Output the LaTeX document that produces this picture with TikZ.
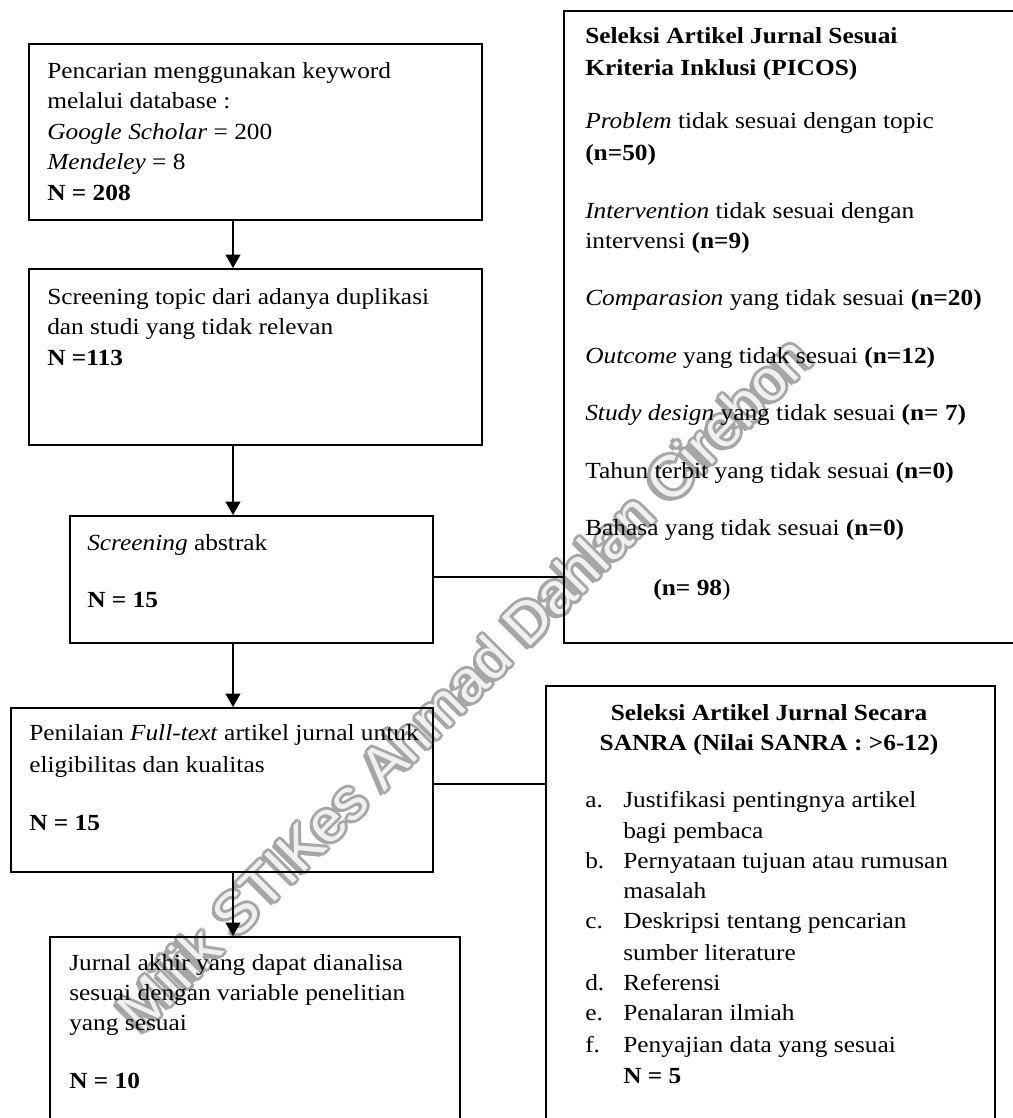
\documentclass[tikz,border=0pt]{standalone}
\usepackage{fontspec}
\setmainfont{Liberation Serif}[FakeStretch=1.1]
\newfontfamily\wmfont{Liberation Sans}
\usetikzlibrary{arrows.meta,calc}
\newcommand\tl[4]{\node[ln] (#1) at (#2,#3) {#4};}
\begin{document}
\begin{tikzpicture}[x=0.75pt,y=-0.75pt,
  box/.style={draw,line width=1.2pt,inner sep=0,anchor=north west,rectangle},
  ln/.style={anchor=base west,inner sep=0,font=\fontsize{17.3}{22}\selectfont},
  lnc/.style={anchor=base,inner sep=0,font=\fontsize{17.3}{22}\selectfont},
  arr/.style={line width=1.5pt,-{Triangle[width=11pt,length=10pt]}},
  con/.style={line width=0.9pt},
  wm/.style={rotate=45,anchor=base west,inner sep=0,font=\wmfont\fontsize{44}{44}\selectfont}]
\clip (0,0) rectangle (1013,1118);
\useasboundingbox (0,0) rectangle (1013,1118);
\fill[white] (0,0) rectangle (1013,1118);
% watermark (drawn behind)
\foreach \dx/\dy [count=\i] in {3/0,2.1/2.1,0/3,-2.1/2.1,-3/0,-2.1/-2.1,0/-3,2.1/-2.1,1.5/0,0/1.5,-1.5/0,0/-1.5,-3.5/3.5,-2.5/3.5,-3.5/2.5}{
  \node[wm,text=gray!70] (wms\i) at (142+\dx,1035+\dy) {Milik STIKes Ahmad Dahlan Cirebon};
}
\node[wm,text=gray!12] (wm) at (142,1035) {Milik STIKes Ahmad Dahlan Cirebon};
% boxes
\node[box,minimum width=453*0.75pt,minimum height=176*0.75pt] (b1) at (28,43) {};
\node[box,minimum width=453*0.75pt,minimum height=176*0.75pt] (b2) at (28,268) {};
\node[box,minimum width=363*0.75pt,minimum height=127*0.75pt] (b3) at (69,515) {};
\node[box,minimum width=480*0.75pt,minimum height=632*0.75pt] (picos) at (563,10) {};
\node[box,minimum width=422*0.75pt,minimum height=164*0.75pt] (b4) at (10,707) {};
\node[box,minimum width=410*0.75pt,minimum height=250*0.75pt] (b5) at (49,936) {};
\node[box,minimum width=449*0.75pt,minimum height=500*0.75pt] (sanra) at (545,685) {};
\coordinate (ax) at (233,0);
% connectors
\draw[arr] (b1.south -| ax) -- (b2.north -| ax);
\draw[arr] (b2.south -| ax) -- (b3.north -| ax);
\draw[arr] (b3.south -| ax) -- (b4.north -| ax);
\draw[arr] (b4.south -| ax) -- (b5.north -| ax);
\coordinate (h1) at (0,577);
\coordinate (h2) at (0,784);
\draw[con] (b3.east |- h1) -- (picos.west |- h1);
\draw[con] (b4.east |- h2) -- (sanra.west |- h2);
% box 1
\tl{t11}{47}{78}{Pencarian menggunakan keyword}
\tl{t12}{47}{108.5}{melalui database :}
\tl{t13}{47}{139}{\textit{Google Scholar} = 200}
\tl{t14}{47}{169}{\textit{Mendeley} = 8}
\tl{t15}{47}{200}{\textbf{N = 208}}
% box 2
\tl{t21}{47}{304}{Screening topic dari adanya duplikasi}
\tl{t22}{47}{334}{dan studi yang tidak relevan}
\tl{t23}{47}{365}{\textbf{N =113}}
% box 3
\tl{t31}{87}{550}{\textit{Screening} abstrak}
\tl{t32}{87}{607}{\textbf{N = 15}}
% picos
\tl{p1}{585}{43}{\textbf{Seleksi Artikel Jurnal Sesuai}}
\tl{p2}{585}{75}{\textbf{Kriteria Inklusi (PICOS)}}
\tl{p3}{585}{128}{\textit{Problem} tidak sesuai dengan topic}
\tl{p4}{585}{160}{\textbf{(n=50)}}
\tl{p5}{585}{218}{\textit{Intervention} tidak sesuai dengan}
\tl{p6}{585}{248}{intervensi \textbf{(n=9)}}
\tl{p7}{585}{305}{\textit{Comparasion} yang tidak sesuai \textbf{(n=20)}}
\tl{p8}{585}{363}{\textit{Outcome} yang tidak sesuai \textbf{(n=12)}}
\tl{p9}{585}{420}{\textit{Study design} yang tidak sesuai \textbf{(n= 7)}}
\tl{p10}{585}{478}{Tahun terbit yang tidak sesuai \textbf{(n=0)}}
\tl{p11}{585}{535}{Bahasa yang tidak sesuai \textbf{(n=0)}}
\node[lnc] (p12) at (692,595) {\textbf{(n= 98})};
% box 4
\tl{t41}{29}{740}{Penilaian \textit{Full-text} artikel jurnal untuk}
\tl{t42}{29}{772}{eligibilitas dan kualitas}
\tl{t43}{29}{830}{\textbf{N = 15}}
% box 5
\tl{t51}{69}{970}{Jurnal akhir yang dapat dianalisa}
\tl{t52}{69}{1000}{sesuai dengan variable penelitian}
\tl{t53}{69}{1030}{yang sesuai}
\tl{t54}{69}{1088}{\textbf{N = 10}}
% sanra
\node[lnc] (s1) at (769,720) {\textbf{Seleksi Artikel Jurnal Secara}};
\node[lnc] (s2) at (769,750) {\textbf{SANRA (Nilai SANRA : >6-12)}};
\tl{la}{585}{807}{a.}\tl{sa1}{623}{807}{Justifikasi pentingnya artikel}
\tl{sa2}{623}{838}{bagi pembaca}
\tl{lb}{585}{868}{b.}\tl{sb1}{623}{868}{Pernyataan tujuan atau rumusan}
\tl{sb2}{623}{898}{masalah}
\tl{lc}{585}{928}{c.}\tl{sc1}{623}{928}{Deskripsi tentang pencarian}
\tl{sc2}{623}{960}{sumber literature}
\tl{ld}{585}{990}{d.}\tl{sd1}{623}{990}{Referensi}
\tl{le}{585}{1020}{e.}\tl{se1}{623}{1020}{Penalaran ilmiah}
\tl{lf}{585}{1052}{f.}\tl{sf1}{623}{1052}{Penyajian data yang sesuai}
\tl{sf2}{623}{1083}{\textbf{N = 5}}
\end{tikzpicture}
\end{document}
